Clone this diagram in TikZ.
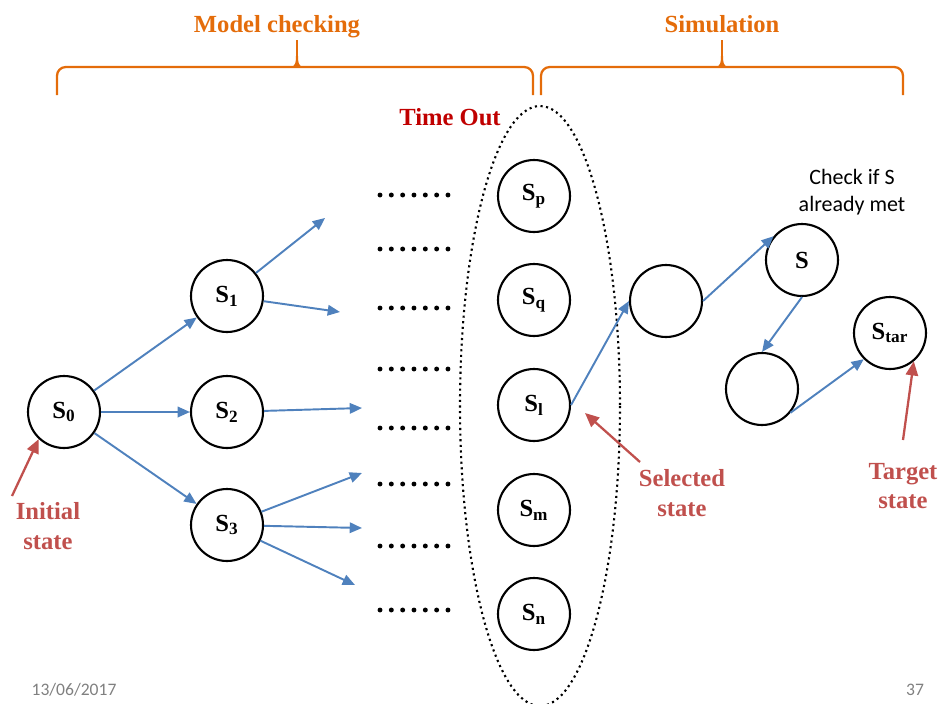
\documentclass[tikz,border=0pt]{standalone}
\usepackage{fontspec}
\setmainfont{Liberation Serif}
\newfontfamily\calibri{Carlito}
\usepackage{xcolor}
\usetikzlibrary{arrows.meta}
\definecolor{edgeblue}{HTML}{4F81BD}
\definecolor{notered}{HTML}{C0504D}
\definecolor{timered}{HTML}{C00000}
\definecolor{braceorange}{HTML}{E46C0A}

\begin{document}
\begin{tikzpicture}[x=0.02cm, y=-0.02cm,
		state/.style={circle, draw, line width=1.2pt, minimum size=1.44cm, inner sep=0pt, font=\fontsize{14}{14}\selectfont\bfseries},
		move/.style={-{Triangle[length=7pt, width=6pt]}, edgeblue, line width=1.1pt},
		pointer/.style={-{Triangle[length=8pt, width=7pt]}, notered, line width=1.3pt},
		note/.style={notered, align=center, font=\fontsize{14}{17}\selectfont\bfseries},
		brace/.style={braceorange, line width=1.3pt},
		heading/.style={braceorange, anchor=base, font=\fontsize{14}{17}\selectfont\bfseries}]
		\useasboundingbox (0,0) rectangle (941,704);

		% model checking tree
		\node[state] (s0) at (64,412) {S\textsubscript{0}};
		\node[state] (s1) at (227,296) {S\textsubscript{1}};
		\node[state] (s2) at (227,412) {S\textsubscript{2}};
		\node[state] (s3) at (227,525) {S\textsubscript{3}};

		\coordinate (a1) at (325,218);
		\coordinate (a2) at (340,312);
		\coordinate (a3) at (362,408);
		\coordinate (a4) at (362,473);
		\coordinate (a5) at (362,528);
		\coordinate (a6) at (355,585);

		\draw[move] (s0) -- (s1);
		\draw[move] (s0) -- (s2);
		\draw[move] (s0) -- (s3);
		\draw[move] (s1) -- (a1);
		\draw[move] (s1) -- (a2);
		\draw[move] (s2) -- (a3);
		\draw[move] (s3) -- (a4);
		\draw[move] (s3) -- (a5);
		\draw[move] (s3) -- (a6);

		\foreach \y in {195,249,308,369,428,484,546,610}
			\foreach \i in {0,...,6}
				\fill (380+11.33*\i,\y) circle (1.4pt);

		% states reached at time out
		\draw[dotted, line width=1.2pt] (540,406) ellipse [x radius=80, y radius=300];
		\node[font=\fontsize{14}{17}\selectfont\bfseries, timered] (to) at (450,117) {Time Out};
		\foreach \n/\y in {p/196, q/300, l/405, m/510, n/614}
			\node[state] (s\n) at (534,\y) {S\textsubscript{\n}};

		% simulation
		\node[state] (e1) at (666,301) {};
		\node[state] (s) at (802,260) {S};
		\node[state] (e2) at (762,389) {};
		\node[state] (star) at (890,333) {S\textsubscript{tar}};
		\node[align=center, font=\calibri\fontsize{12.5}{15}\selectfont] (chk) at (852,192) {Check if S\\already met};

		\draw[move] (sl.east) -- (e1.west);
		\draw[move] (e1.east) -- (s.140);
		\draw[move] (s.south) -- (e2.north);
		\draw[move] (e2.-40) -- (star.225);

		% notes
		\node[note] (initlbl) at (48,526) {Initial\\state};
		\node[note] (sellbl) at (682,493) {Selected\\state};
		\node[note] (tarlbl) at (903,486) {Target\\state};
		\coordinate (initfoot) at (12,496);
		\coordinate (selfoot) at (640,462);
		\coordinate (selhead) at (585,413);
		\coordinate (tarfoot) at (903,440);
		\draw[pointer] (initfoot) -- (s0.227);
		\draw[pointer] (selfoot) -- (selhead);
		\draw[pointer] (tarfoot) -- (star.-50);

		\node[gray, font=\calibri\fontsize{10}{12}\selectfont] (date) at (74,690) {13/06/2017};
		\node[gray, font=\calibri\fontsize{10}{12}\selectfont] (page) at (915,690) {37};

		% braces and headings
		\node[heading] (mc) at (277,32) {Model checking};
		\node[heading] (sim) at (722,32) {Simulation};
		\foreach \xa/\xm/\xb in {57/297/533, 541/722/903} {
			\draw[brace, rounded corners=5pt] (\xa,95) -- (\xa,67) -- (\xb,67) -- (\xb,95);
			\draw[brace, line width=1.5pt] (\xm,67) -- (\xm,40);
			\fill[braceorange] (\xm-6,67) .. controls (\xm-1.5,66) and (\xm-1,62) .. (\xm-1,56)
				-- (\xm+1,56) .. controls (\xm+1,62) and (\xm+1.5,66) .. (\xm+6,67) -- cycle;
		}
	\end{tikzpicture}
\end{document}
